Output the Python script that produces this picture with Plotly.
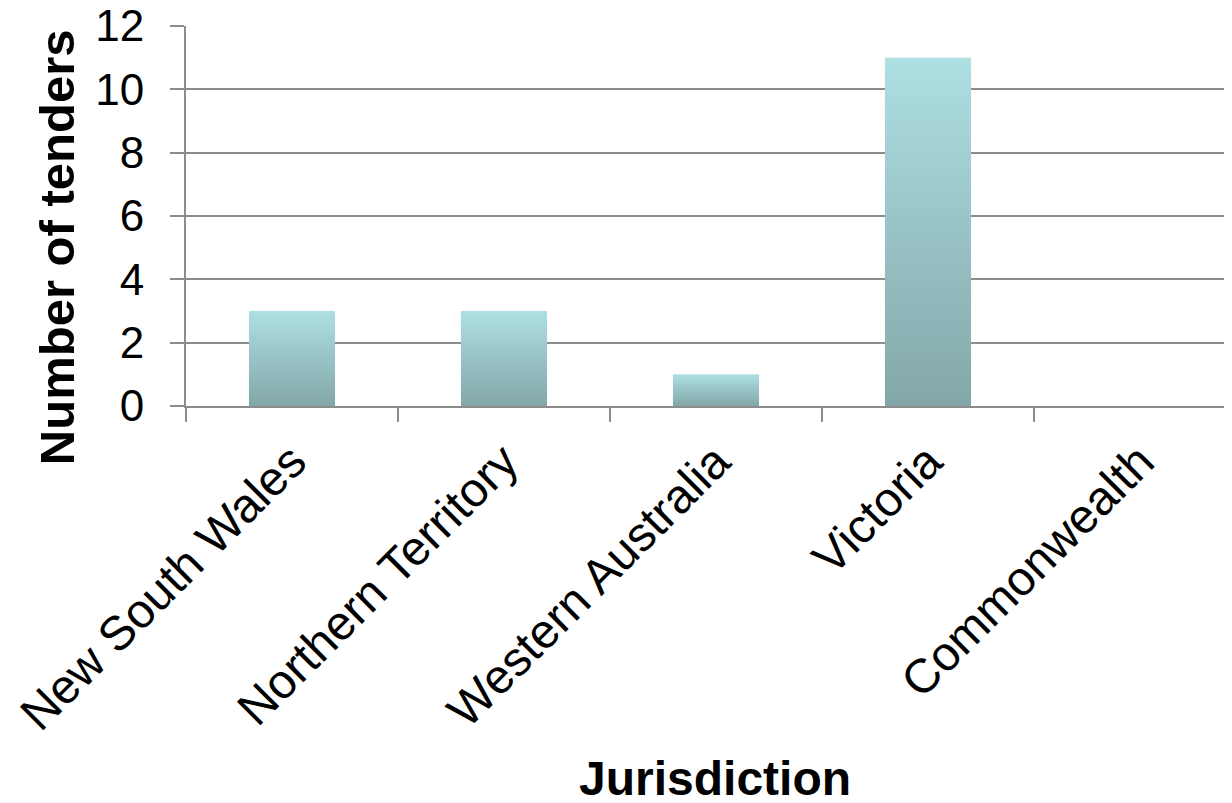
import plotly.graph_objects as go

categories = ["New South Wales", "Northern Territory", "Western Australia", "Victoria", "Commonwealth"]
tenders = [3, 3, 1, 11, 0]
y_ticks = [0, 2, 4, 6, 8, 10, 12]

BAR_W = 0.406
TOP_COL = "#AEDFE3"
BOT_COL = "#83A7A9"
GRID = "#8c8c8c"
FONT = "Liberation Sans, Arial, sans-serif"

fig = go.Figure()
for i, (c, v) in enumerate(zip(categories, tenders)):
    if v <= 0:
        continue
    x0, x1 = i - BAR_W / 2, i + BAR_W / 2
    fig.add_trace(go.Scatter(
        x=[x0, x1, x1, x0, x0], y=[0, 0, v, v, 0],
        mode="lines", line=dict(width=0), fill="toself",
        fillgradient=dict(type="vertical", colorscale=[[0, BOT_COL], [1, TOP_COL]]),
        name=c, showlegend=False, hoverinfo="skip",
    ))

n = len(categories)
L = 178
fig.update_layout(
    width=1232, height=803,
    margin=dict(l=L, r=0, t=18, b=405, autoexpand=False),
    plot_bgcolor="white", paper_bgcolor="white",
    font=dict(family=FONT, color="black"),
    showlegend=False,
    xaxis=dict(
        range=[-0.5, -0.5 + (1232 - L) / 212],
        tickmode="array", tickvals=list(range(n)), ticktext=categories,
        tickangle=-45, tickfont=dict(size=48), ticks="",
        showgrid=False, zeroline=False, automargin=False,
        showline=True, linecolor=GRID, linewidth=2,
        ticklabelstandoff=6, ticklabeloverflow="allow",
        minor=dict(tickmode="array", tickvals=[i - 0.5 for i in range(n + 1)],
                   ticks="outside", ticklen=14, tickwidth=2, tickcolor=GRID, showgrid=False),
    ),
    yaxis=dict(
        range=[0, 12], tickmode="array", tickvals=y_ticks,
        tickfont=dict(size=44), ticks="outside", ticklen=14, tickwidth=2, tickcolor=GRID,
        showgrid=True, gridcolor=GRID, gridwidth=2, zeroline=False, automargin=False,
        showline=True, linecolor=GRID, linewidth=2,
        ticklabelstandoff=17, ticklabeloverflow="allow",
    ),
    annotations=[
        dict(text="<b>Jurisdiction</b>", xref="paper", yref="paper",
             x=0.502, y=-0.979, xanchor="center", yanchor="middle",
             showarrow=False, font=dict(size=48)),
        dict(text="<b>Number of tenders</b>", xref="paper", yref="paper",
             x=-0.1224, y=0.418, xanchor="center", yanchor="middle", textangle=-90,
             showarrow=False, font=dict(size=49)),
    ],
)

fig.write_html("out.html")
